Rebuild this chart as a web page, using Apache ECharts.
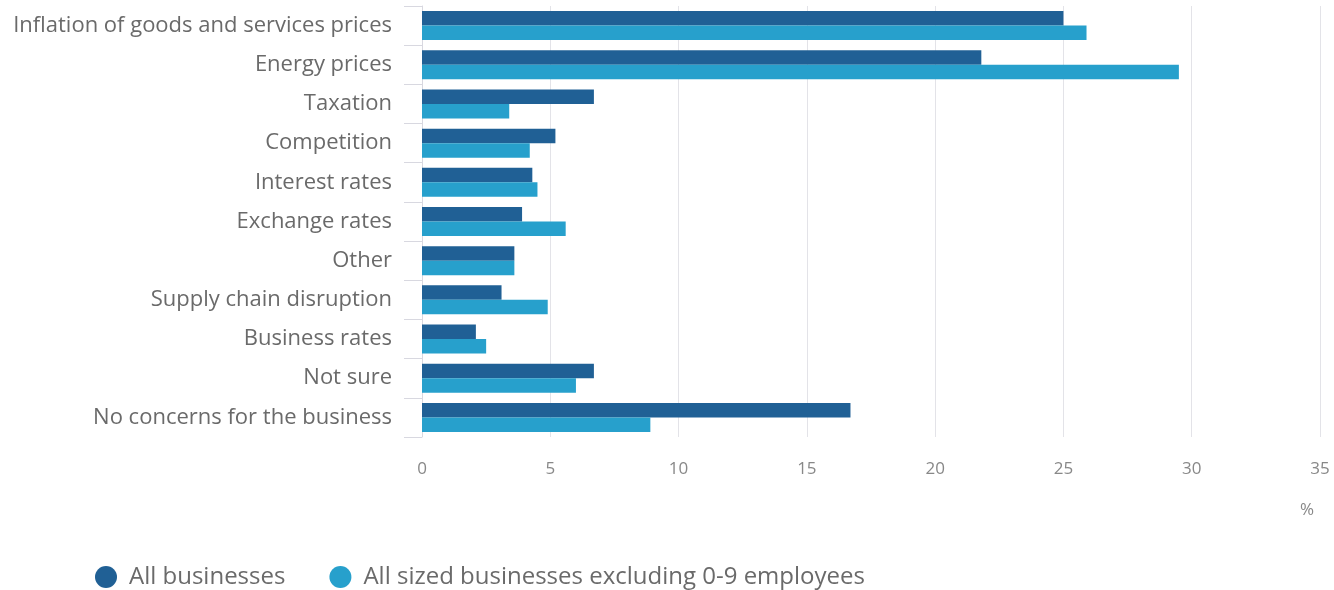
<!DOCTYPE html>
<html><head><meta charset="utf-8">
<script src="https://cdn.jsdelivr.net/npm/echarts@6/dist/echarts.min.js"></script>
<style>html,body{margin:0;padding:0;background:#fff}#c{width:1334px;height:590px}</style>
</head><body><div id="c"></div>
<script>
const categories = ["Inflation of goods and services prices","Energy prices","Taxation","Competition","Interest rates","Exchange rates","Other","Supply chain disruption","Business rates","Not sure","No concerns for the business"];
const allBusinesses = [25.0,21.8,6.7,5.2,4.3,3.9,3.6,3.1,2.1,6.7,16.7];
const sizedBusinesses = [25.9,29.5,3.4,4.2,4.5,5.6,3.6,4.9,2.5,6.0,8.9];
const seriesNames = ["All businesses","All sized businesses excluding 0-9 employees"];
const unitLabel = "%";

const chart = echarts.init(document.getElementById('c'));
const font = "'Open Sans', 'Noto Sans', sans-serif";
chart.setOption({
  animation:false,
  grid:{left:422,right:14,top:6,bottom:153,containLabel:false},
  legend:{
    left:90,top:560,icon:'circle',itemWidth:22,itemHeight:22,itemGap:44,
    textStyle:{fontFamily:font,fontSize:24,color:'#6a6a6a',padding:[0,0,0,7]},
    data:seriesNames
  },
  xAxis:{
    type:'value',min:0,max:35,interval:5,
    axisLine:{show:false},axisTick:{show:false},
    splitLine:{show:true,lineStyle:{color:'#e3e3e8',width:1}},
    axisLabel:{fontFamily:font,fontSize:17,color:'#888',margin:24}
  },
  yAxis:{
    type:'category',data:categories,inverse:true,
    axisLine:{show:true,lineStyle:{color:'#d8d8e0'}},
    axisTick:{show:true,length:18,lineStyle:{color:'#d8d8e0'}},
    axisLabel:{fontFamily:font,fontSize:22,color:'#6a6a6a',margin:30,padding:[3,0,0,0]}
  },
  graphic:[{type:'text',left:1300,top:502,style:{text:unitLabel,font:"17px "+font,fill:'#888'}}],
  series:[
    {name:seriesNames[0],type:'bar',data:allBusinesses,barWidth:14.5,barGap:'0%',itemStyle:{color:'#206095'}},
    {name:seriesNames[1],type:'bar',data:sizedBusinesses,barWidth:14.5,barGap:'0%',itemStyle:{color:'#27a0cc'}}
  ]
});
</script></body></html>
